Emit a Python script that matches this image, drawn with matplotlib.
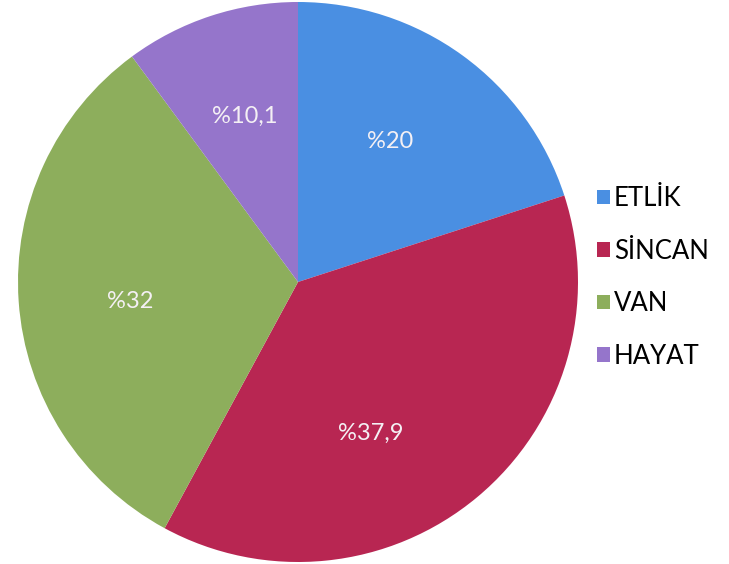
import matplotlib
matplotlib.use("Agg")
import matplotlib.pyplot as plt
from matplotlib.patches import Patch

plt.rcParams['font.family'] = ['Lato', 'DejaVu Sans']

# veriler
labels = ["ETLİK", "SİNCAN", "VAN", "HAYAT"]
values = [20, 37.9, 32, 10.1]
pct_text = ["%20", "%37,9", "%32", "%10,1"]
colors = ["#4a8fe2", "#b82652", "#8dae5c", "#9575cb"]

# etiket yerleri (Excel'deki gibi, yaricap birimiyle)
label_pos = [(0.33, 0.50), (0.26, -0.54), (-0.60, -0.07), (-0.19, 0.59)]

W, H = 729, 564
fig = plt.figure(figsize=(W / 100, H / 100), dpi=100)

cx, cy, r = 298, 282, 280
ax = fig.add_axes([(cx - r) / W, (H - cy - r) / H, 2 * r / W, 2 * r / H])

wedges, texts = ax.pie(values, labels=pct_text, colors=colors, startangle=90,
                       counterclock=False, labeldistance=0.6,
                       wedgeprops=dict(linewidth=0, clip_on=False),
                       textprops=dict(color="#f4f0f4", fontsize=17))
for t, p in zip(texts, label_pos):
    t.set_position(p)
    t.set_ha("center")
    t.set_va("center")
ax.set_xlim(-1, 1)
ax.set_ylim(-1, 1)
ax.set_aspect("equal")
ax.axis("off")

handles = [Patch(facecolor=c, edgecolor="none") for c in colors]
fig.legend(handles, labels, loc="upper left",
           bbox_to_anchor=(587 / W, 1 - 176 / H),
           frameon=False, fontsize=18.5, handlelength=0.5, handleheight=0.5,
           handletextpad=0.15, labelspacing=1.07, borderaxespad=0)

fig.savefig("out.png", dpi=100)
